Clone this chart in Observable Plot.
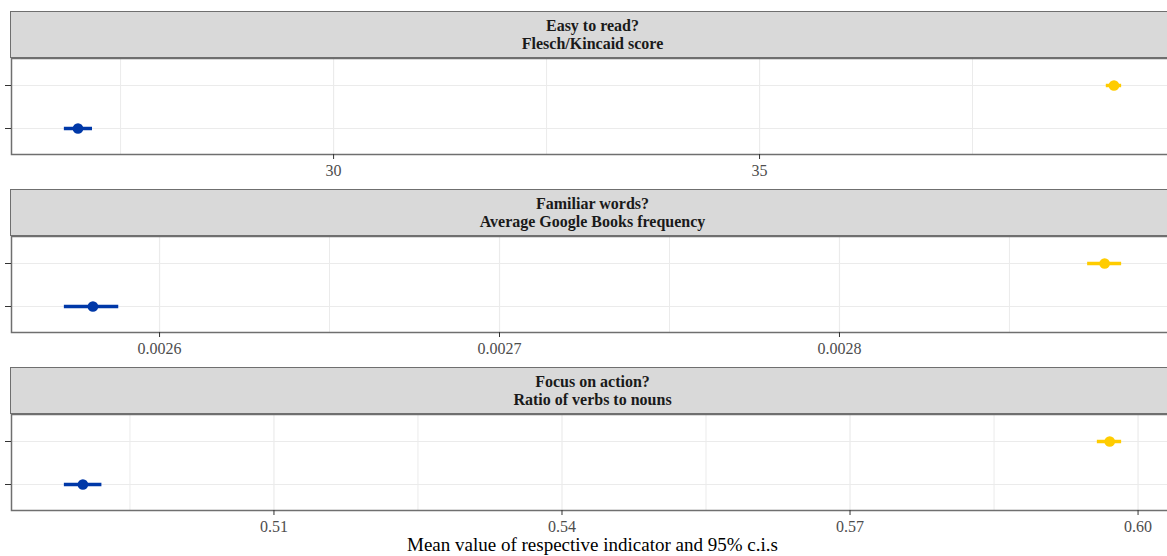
<!DOCTYPE html>
<html><head><meta charset="utf-8">
<script src="https://cdn.jsdelivr.net/npm/d3@7"></script>
<script src="https://cdn.jsdelivr.net/npm/@observablehq/plot@0.6"></script>
<style>
html,body{margin:0;padding:0;background:#fff;overflow:hidden;width:1167px;height:556px;}
#chart{position:relative;width:1175px;font-family:"Liberation Serif","Times New Roman",serif;}
.strip{box-sizing:border-box;margin-left:10px;width:1165px;height:47px;background:#D9D9D9;border:1.5px solid #6f6f6f;display:flex;flex-direction:column;justify-content:center;align-items:center;font-weight:bold;font-size:16px;line-height:18px;color:#1a1a1a;}
.first{margin-top:11px;}
.xtitle{margin-left:11px;width:1163px;text-align:center;font-size:19px;line-height:22px;color:#000;}
svg{display:block;}
</style>
</head><body>
<div id="chart"></div>
<script>
// Groups (rows within each panel, top to bottom) and their colours
const groups = ["Group A", "Group B"];
const groupColors = ["#FFCC00", "#0038A8"];

// Panel titles
const panelTitles = [
  ["Easy to read?", "Flesch/Kincaid score"],
  ["Familiar words?", "Average Google Books frequency"],
  ["Focus on action?", "Ratio of verbs to nouns"]
];

// Panel 1: Flesch/Kincaid score (mean, lower, upper) per group
const fkMean = [39.16, 27.00];
const fkLow  = [39.07, 26.84];
const fkHigh = [39.25, 27.17];
const fkTicks = [30, 35];
const fkMinor = [27.5, 32.5, 37.5];

// Panel 2: Average Google Books frequency
const gbMean = [0.002878, 0.0025804];
const gbLow  = [0.002873, 0.002572];
const gbHigh = [0.002883, 0.002588];
const gbTicks = [0.0026, 0.0027, 0.0028];
const gbMinor = [0.00265, 0.00275, 0.00285];

// Panel 3: Ratio of verbs to nouns
const vnMean = [0.59705, 0.49010];
const vnLow  = [0.59576, 0.48817];
const vnHigh = [0.59829, 0.49208];
const vnTicks = [0.51, 0.54, 0.57, 0.60];
const vnMinor = [0.495, 0.525, 0.555, 0.585];

const xTitle = "Mean value of respective indicator and 95% c.i.s";

const FONT = '"Liberation Serif","Times New Roman",serif';

function panel(mean, low, high, major, minor, fmt, mb) {
  const data = groups.map((g, i) => ({group: g, mean: mean[i], lo: low[i], hi: high[i]}));
  const mn = d3.min(low), mx = d3.max(high), R = mx - mn;
  return Plot.plot({
    width: 1175, height: 96 + mb,
    marginLeft: 11, marginRight: 1, marginTop: 0, marginBottom: mb,
    style: {fontFamily: FONT, fontSize: "16px", background: "white", overflow: "visible"},
    x: {domain: [mn - 0.05 * R, mx + 0.05 * R], label: null},
    y: {type: "point", domain: groups, padding: 0.6, label: null},
    color: {domain: groups, range: groupColors},
    marks: [
      Plot.gridX(minor, {stroke: "#EBEBEB", strokeOpacity: 1, strokeWidth: 1}),
      Plot.gridX(major, {stroke: "#EBEBEB", strokeOpacity: 1, strokeWidth: 1.2}),
      Plot.gridY(groups, {stroke: "#EBEBEB", strokeOpacity: 1, strokeWidth: 1.2}),
      Plot.ruleY(data, {y: "group", x1: "lo", x2: "hi", stroke: "group", strokeWidth: 3.5}),
      Plot.dot(data, {x: "mean", y: "group", fill: "group", r: 5.3}),
      Plot.frame({stroke: "#6f6f6f", strokeWidth: 1.5}),
      Plot.axisX(major, {tickSize: 5, tickPadding: 5, tickFormat: fmt, color: "#4d4d4d", stroke: "#333", label: null, fontSize: 16}),
      Plot.axisY(groups, {tickSize: 6, tickFormat: () => "", stroke: "#333", label: null})
    ]
  });
}

const chart = document.getElementById("chart");
const specs = [
  [fkMean, fkLow, fkHigh, fkTicks, fkMinor, d3.format("d"), 35],
  [gbMean, gbLow, gbHigh, gbTicks, gbMinor, d3.format(".4f"), 35],
  [vnMean, vnLow, vnHigh, vnTicks, vnMinor, d3.format(".2f"), 24]
];
specs.forEach((s, i) => {
  const strip = document.createElement("div");
  strip.className = "strip" + (i === 0 ? " first" : "");
  panelTitles[i].forEach(t => {
    const d = document.createElement("div");
    d.textContent = t;
    strip.appendChild(d);
  });
  chart.appendChild(strip);
  chart.appendChild(panel(...s));
});
const title = document.createElement("div");
title.className = "xtitle";
title.textContent = xTitle;
chart.appendChild(title);
</script>
</body></html>
